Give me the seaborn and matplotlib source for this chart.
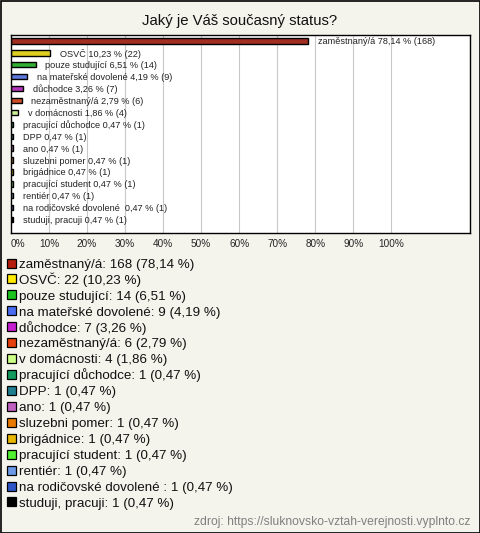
import numpy as np
import pandas as pd
import matplotlib
matplotlib.use('Agg')
import matplotlib.pyplot as plt
from matplotlib.patches import Rectangle
import seaborn as sns

# data
categories = ['zaměstnaný/á', 'OSVČ', 'pouze studující', 'na mateřské dovolené',
              'důchodce', 'nezaměstnaný/á', 'v domácnosti', 'pracující důchodce',
              'DPP', 'ano', 'sluzebni pomer', 'brigádnice', 'pracující student',
              'rentiér', 'na rodičovské dovolené ', 'studuji, pracuji']
counts = [168, 22, 14, 9, 7, 6, 4, 1, 1, 1, 1, 1, 1, 1, 1, 1]
percents = [78.14, 10.23, 6.51, 4.19, 3.26, 2.79, 1.86, 0.47, 0.47, 0.47,
            0.47, 0.47, 0.47, 0.47, 0.47, 0.47]
colors = ['#b51e0c', '#ffea00', '#1ec41e', '#4a6cf0', '#c61ed0', '#e6400e',
          '#ccff88', '#139a5c', '#1f7f90', '#c060c0', '#e87a00', '#e8b800',
          '#50f030', '#6d9ae8', '#2e55c8', '#000000']
xticks = [0, 10, 20, 30, 40, 50, 60, 70, 80, 90, 100]

def cz(v):
    return f'{v:.2f}'.replace('.', ',')

df = pd.DataFrame({'cat': categories, 'pct': percents, 'n': counts})

sns.set_style('white')
plt.rcParams['font.family'] = ['Liberation Sans', 'DejaVu Sans']
bg = '#f4f3ec'

W, H = 480, 533
fig = plt.figure(figsize=(W / 100, H / 100), dpi=100, facecolor=bg)

# plot area in pixels: left 11, right 470, top 35, bottom 233
ax = fig.add_axes([11 / W, 1 - 233 / H, 459 / W, 198 / H])
ax.set_facecolor('white')

sns.barplot(data=df, y='cat', x='pct', hue='cat', palette=colors, orient='h',
            legend=False, width=0.45, edgecolor='black', linewidth=1.0, ax=ax)

for i, row in df.iterrows():
    ax.annotate(f"{row['cat']} {cz(row['pct'])} % ({row['n']})",
                xy=(row['pct'], i), xytext=(7, 0), textcoords='offset points',
                va='center_baseline', ha='left', fontsize=6.6, color='#222222')

ax.set_xlim(0, 120.7)
ax.set_ylim(16.13, -0.5)
ax.set_xticks(xticks)
ax.set_xticklabels([f'{t}%' for t in xticks], fontsize=7.2)
ax.get_xticklabels()[0].set_horizontalalignment('left')
ax.tick_params(axis='x', length=0, pad=4)
ax.set_yticks([])
ax.set_xlabel('')
ax.set_ylabel('')
ax.grid(False)
for t in xticks[1:]:
    ax.axvline(t, color='#c8c8c8', linewidth=0.8, zorder=0)
for s in ax.spines.values():
    s.set_visible(True)
    s.set_color('black')
    s.set_linewidth(1.0)

fig.text(240 / W, 1 - 21 / H, 'Jaký je Váš současný status?', ha='center',
         va='center', fontsize=10.7, color='#111111')

# legend rows, fixed spacing
for i, (c, n, p) in enumerate(zip(categories, counts, percents)):
    yc = 263 + 15.93 * i
    fig.patches.append(Rectangle((7 / W, 1 - (yc + 4.5) / H), 9 / W, 9 / H,
                                 transform=fig.transFigure, facecolor=colors[i],
                                 edgecolor='black', linewidth=0.9))
    fig.text(19 / W, 1 - (yc + 4.8) / H, f'{c}: {n} ({cz(p)} %)', ha='left',
             va='baseline', fontsize=9.6, color='#111111')

fig.text(470 / W, 1 - 522 / H,
         'zdroj: https://sluknovsko-vztah-verejnosti.vyplnto.cz',
         ha='right', va='center', fontsize=8.7, color='#808080')

fig.patches.append(Rectangle((0.5 / W, 0.5 / H), 1 - 1 / W, 1 - 1 / H,
                             transform=fig.transFigure, fill=False,
                             edgecolor='black', linewidth=1.2))

fig.savefig('out.png', dpi=100, facecolor=bg)
